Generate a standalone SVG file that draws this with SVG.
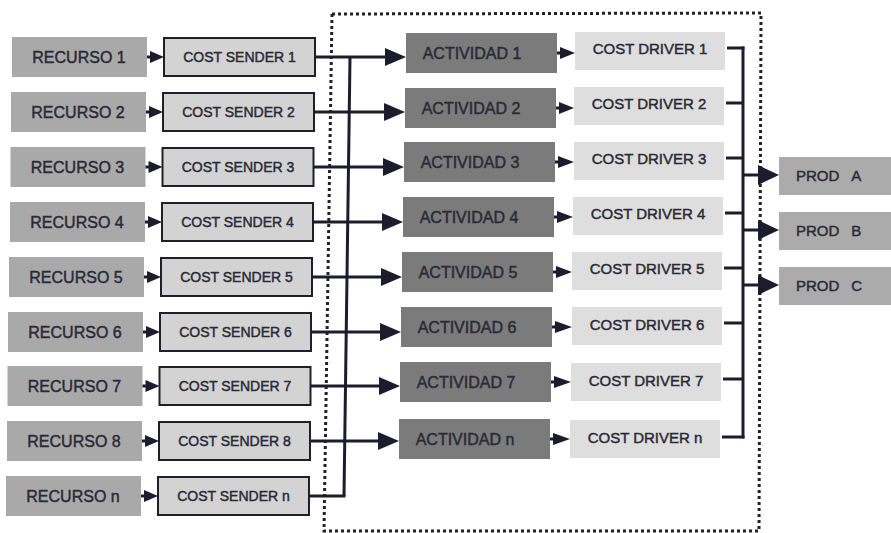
<svg xmlns="http://www.w3.org/2000/svg" width="891" height="533" viewBox="0 0 891 533">
<style>
text{font-family:"Liberation Sans",Arial,sans-serif;fill:#2a2a36;stroke:#2a2a36;stroke-width:0.45;text-anchor:middle}
.rec{fill:#a9a9a9}
.snd{fill:#d3d3d3;stroke:#1e1e2c;stroke-width:2}
.act{fill:#7b7b7b}
.drv{fill:#dedede}
.prd{fill:#ababab}
.t16{font-size:16px}
.t14{font-size:14px}
.t15{font-size:15px}
.ln{stroke:#1c1c2c;stroke-width:3;fill:none}
.ah{fill:#1c1c2c}
</style>
<rect width="891" height="533" fill="#ffffff"/>
<path d="M332,14 L761,13 L759,531 L324,531 Z" fill="none" stroke="#222" stroke-width="3" stroke-dasharray="3 3"/>

<g id="recurso1"><rect class="rec" x="12" y="37" width="135" height="40"/><text class="t16" x="79" y="63">RECURSO 1</text></g>
<g id="recurso2"><rect class="rec" x="11" y="92" width="135" height="40"/><text class="t16" x="78" y="118">RECURSO 2</text></g>
<g id="recurso3"><rect class="rec" x="10.5" y="147" width="135" height="40"/><text class="t16" x="77.5" y="173">RECURSO 3</text></g>
<g id="recurso4"><rect class="rec" x="10" y="202" width="135" height="40"/><text class="t16" x="77" y="228">RECURSO 4</text></g>
<g id="recurso5"><rect class="rec" x="9" y="257" width="135" height="40"/><text class="t16" x="76" y="283">RECURSO 5</text></g>
<g id="recurso6"><rect class="rec" x="8" y="312" width="135" height="40"/><text class="t16" x="75" y="338">RECURSO 6</text></g>
<g id="recurso7"><rect class="rec" x="7.5" y="366" width="135" height="40"/><text class="t16" x="74.5" y="392">RECURSO 7</text></g>
<g id="recurso8"><rect class="rec" x="7" y="421" width="135" height="40"/><text class="t16" x="74" y="447">RECURSO 8</text></g>
<g id="recurso_n"><rect class="rec" x="6" y="476" width="135" height="40"/><text class="t16" x="73" y="502">RECURSO n</text></g>

<g id="sender1"><rect class="snd" x="164" y="38" width="151" height="38"/><text class="t14" x="239.5" y="62">COST SENDER 1</text></g>
<g id="sender2"><rect class="snd" x="163" y="93" width="151" height="38"/><text class="t14" x="238.5" y="117">COST SENDER 2</text></g>
<g id="sender3"><rect class="snd" x="162.5" y="148" width="151" height="38"/><text class="t14" x="238" y="172">COST SENDER 3</text></g>
<g id="sender4"><rect class="snd" x="162" y="203" width="151" height="38"/><text class="t14" x="237.5" y="227">COST SENDER 4</text></g>
<g id="sender5"><rect class="snd" x="161" y="258" width="151" height="38"/><text class="t14" x="236.5" y="282">COST SENDER 5</text></g>
<g id="sender6"><rect class="snd" x="160" y="313" width="151" height="38"/><text class="t14" x="235.5" y="337">COST SENDER 6</text></g>
<g id="sender7"><rect class="snd" x="159.5" y="367" width="151" height="38"/><text class="t14" x="235" y="391">COST SENDER 7</text></g>
<g id="sender8"><rect class="snd" x="159" y="422" width="151" height="38"/><text class="t14" x="234.5" y="446">COST SENDER 8</text></g>
<g id="sender_n"><rect class="snd" x="158" y="477" width="151" height="38"/><text class="t14" x="233.5" y="501">COST SENDER n</text></g>

<g id="actividad1"><rect class="act" x="406" y="33" width="151" height="40"/><text class="t16" x="472" y="59">ACTIVIDAD 1</text></g>
<g id="actividad2"><rect class="act" x="405" y="88" width="151" height="40"/><text class="t16" x="471" y="114">ACTIVIDAD 2</text></g>
<g id="actividad3"><rect class="act" x="404" y="142" width="151" height="40"/><text class="t16" x="470" y="168">ACTIVIDAD 3</text></g>
<g id="actividad4"><rect class="act" x="403" y="197" width="151" height="40"/><text class="t16" x="469" y="223">ACTIVIDAD 4</text></g>
<g id="actividad5"><rect class="act" x="402" y="252" width="151" height="40"/><text class="t16" x="468" y="278">ACTIVIDAD 5</text></g>
<g id="actividad6"><rect class="act" x="401" y="307" width="151" height="40"/><text class="t16" x="467" y="333">ACTIVIDAD 6</text></g>
<g id="actividad7"><rect class="act" x="400" y="362" width="151" height="40"/><text class="t16" x="466" y="388">ACTIVIDAD 7</text></g>
<g id="actividad_n"><rect class="act" x="399" y="419" width="151" height="40"/><text class="t16" x="465" y="445">ACTIVIDAD n</text></g>

<g id="driver1"><rect class="drv" x="575" y="32" width="150" height="38"/><text class="t15" x="650" y="54">COST DRIVER 1</text></g>
<g id="driver2"><rect class="drv" x="574" y="87" width="150" height="38"/><text class="t15" x="649" y="109">COST DRIVER 2</text></g>
<g id="driver3"><rect class="drv" x="574" y="142" width="150" height="38"/><text class="t15" x="649" y="164">COST DRIVER 3</text></g>
<g id="driver4"><rect class="drv" x="573" y="197" width="150" height="38"/><text class="t15" x="648" y="219">COST DRIVER 4</text></g>
<g id="driver5"><rect class="drv" x="572" y="252" width="150" height="38"/><text class="t15" x="647" y="274">COST DRIVER 5</text></g>
<g id="driver6"><rect class="drv" x="572" y="307" width="150" height="38"/><text class="t15" x="647" y="330">COST DRIVER 6</text></g>
<g id="driver7"><rect class="drv" x="571" y="363" width="150" height="38"/><text class="t15" x="646" y="386">COST DRIVER 7</text></g>
<g id="driver_n"><rect class="drv" x="570" y="420" width="150" height="38"/><text class="t15" x="645" y="443">COST DRIVER n</text></g>

<g id="prodA"><rect class="prd" x="779" y="157" width="112" height="38"/><text class="t15" x="796" y="181" style="text-anchor:start">PROD<tspan dx="12">A</tspan></text></g>
<g id="prodB"><rect class="prd" x="779" y="212" width="112" height="38"/><text class="t15" x="796" y="236" style="text-anchor:start">PROD<tspan dx="12">B</tspan></text></g>
<g id="prodC"><rect class="prd" x="779" y="267" width="112" height="38"/><text class="t15" x="796" y="291" style="text-anchor:start">PROD<tspan dx="12">C</tspan></text></g>

<g id="connectors">
<g class="ah">
<path d="M150,51 L164,57 L150,63 Z"/><path d="M149,106 L163,112 L149,118 Z"/><path d="M148.5,161 L162.5,167 L148.5,173 Z"/>
<path d="M148,216 L162,222 L148,228 Z"/><path d="M147,271 L161,277 L147,283 Z"/><path d="M146,326 L160,332 L146,338 Z"/>
<path d="M145.5,380 L159.5,386 L145.5,392 Z"/><path d="M145,435 L159,441 L145,447 Z"/><path d="M144,490 L158,496 L144,502 Z"/>
</g>
<g class="ln" stroke-width="2">
<path d="M147,57 H151"/><path d="M146,112 H150"/><path d="M145.5,167 H149.5"/><path d="M145,222 H149"/><path d="M144,277 H148"/>
<path d="M143,332 H147"/><path d="M142.5,386 H146.5"/><path d="M142,441 H146"/><path d="M141,496 H145"/>
</g>
<g class="ln">
<path d="M350,57 L344,496"/>
<path d="M315,57 H387"/><path d="M314,112 H386"/><path d="M313.5,167 H385"/><path d="M313,222 H384"/>
<path d="M312,277 H383"/><path d="M311,332 H382"/><path d="M310.5,386 H381"/><path d="M310,441 H380"/>
<path d="M309,496 H345.5"/>
</g>
<g class="ah">
<path d="M385,48 L406,57 L385,66 Z"/><path d="M384,103 L405,112 L384,121 Z"/><path d="M383,158 L404,167 L383,176 Z"/>
<path d="M382,213 L403,222 L382,231 Z"/><path d="M381,268 L402,277 L381,286 Z"/><path d="M380,323 L401,332 L380,341 Z"/>
<path d="M379,377 L400,386 L379,395 Z"/><path d="M378,432 L399,441 L378,450 Z"/>
</g>
<g class="ln" stroke-width="2">
<path d="M557,53 H562"/><path d="M556,108 H561"/><path d="M555,162 H560"/><path d="M554,217 H559"/>
<path d="M553,272 H558"/><path d="M552,327 H557"/><path d="M551,382 H556"/><path d="M550,439 H555"/>
</g>
<g class="ah">
<path d="M560,47 L575,53 L560,59 Z"/><path d="M559,102 L574,108 L559,114 Z"/><path d="M558,156 L574,162 L558,168 Z"/>
<path d="M557,211 L573,217 L557,223 Z"/><path d="M556,266 L572,272 L556,278 Z"/><path d="M555,321 L572,327 L555,333 Z"/>
<path d="M554,376 L571,382 L554,388 Z"/><path d="M553,433 L570,439 L553,445 Z"/>
</g>
<g class="ln">
<path d="M727,48 H744.5"/><path d="M726,103 H743"/><path d="M726,158 H743"/><path d="M725,213 H743"/>
<path d="M724,268 H743"/><path d="M724,323 H743"/><path d="M723,379 H743"/><path d="M722,437 H744.5"/>
<path d="M743,46.5 V438.5"/>
<path d="M743,175 H760"/><path d="M743,230 H760"/><path d="M743,285 H760"/>
</g>
<g class="ah">
<path d="M758,165 L779,175 L758,185 Z"/><path d="M758,220 L779,230 L758,240 Z"/><path d="M758,275 L779,285 L758,295 Z"/>
</g>
</g>
</svg>
